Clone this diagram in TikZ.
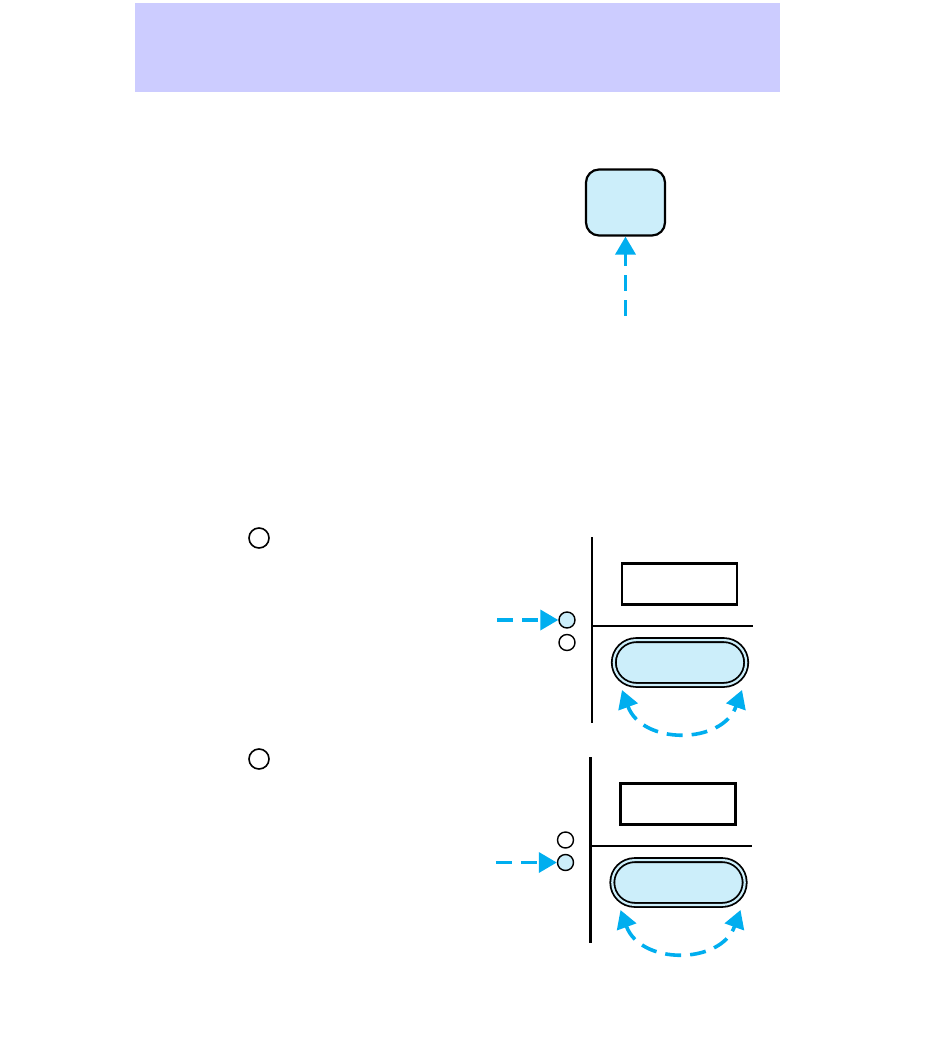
\documentclass[tikz,border=0pt]{standalone}
\usetikzlibrary{arrows.meta,positioning,shapes.misc}
\definecolor{bandlilac}{RGB}{204,204,255}
\definecolor{btnblue}{RGB}{204,238,250}
\definecolor{arrowcyan}{RGB}{0,174,239}
\tikzset{
  pointer/.style={arrowcyan,line width=1.8pt,dash pattern=on 8pt off 4.5pt,
    -{Triangle[length=9pt,width=10pt]}},
  swing/.style={arrowcyan,line width=1.8pt,dash pattern=on 8pt off 4.5pt,
    {Triangle[length=9pt,width=10pt]}-{Triangle[length=9pt,width=10pt]}},
  lamp/.style={circle,draw,line width=0.7pt,minimum size=8pt,inner sep=0pt},
  step mark/.style={circle,draw,line width=0.8pt,minimum size=10pt,inner sep=0pt},
}

\begin{document}
\begin{tikzpicture}[x=0.5pt,y=-0.5pt]
  \useasboundingbox (0,0) rectangle (937,1053);
  % title band
  \fill[bandlilac] (135,3) rectangle (780,92);

  % mode button at the top
  \node[draw,fill=btnblue,line width=1.1pt,rounded corners=6.5pt,
    minimum width=39.5pt,minimum height=33pt,inner sep=0pt] (btn) at (625.5,202.5) {};
  \coordinate[below=39.5pt of btn] (btnfrom);
  \draw[pointer] (btnfrom) -- (btn);

  % step marks
  \node[step mark] (marka) at (259,538) {};
  \node[step mark] (markb) at (259,759) {};

  % the two panels
  \foreach \i/\dx/\dy/\upfill/\lowfill/\tgt in {1/0/0/btnblue/white/a, 2/-1.5/220/white/btnblue/b}{
    \begin{scope}[shift={(\dx,\dy)}]
      \draw[line width=1.1pt] (592,537) -- (592,723);
      \draw[line width=1.1pt] (592,626) -- (753,626);
      \node[draw,line width=1.1pt,minimum width=57.5pt,minimum height=20.5pt,
        inner sep=0pt] (disp\i) at (679.5,584) {};
      \node[rounded rectangle,draw,fill=btnblue,double=btnblue,line width=0.9pt,
        double distance=1.1pt,minimum width=66.2pt,minimum height=22.4pt,
        inner sep=0pt] (pill\i) at (680,662.5) {};
      \node[lamp,fill=\upfill] (lampa\i) at (567,620) {};
      \node[lamp,fill=\lowfill] (lampb\i) at (567,642.5) {};
      \coordinate[left=30.5pt of lamp\tgt\i] (lampfrom\i);
      \draw[pointer] (lampfrom\i) -- (lamp\tgt\i);
      \coordinate (swl\i) at (622,690);
      \coordinate (swr\i) at (742,690);
      \draw[swing] (swl\i) .. controls (642,745) and (722,745) .. (swr\i);
    \end{scope}
  }
\end{tikzpicture}
\end{document}
